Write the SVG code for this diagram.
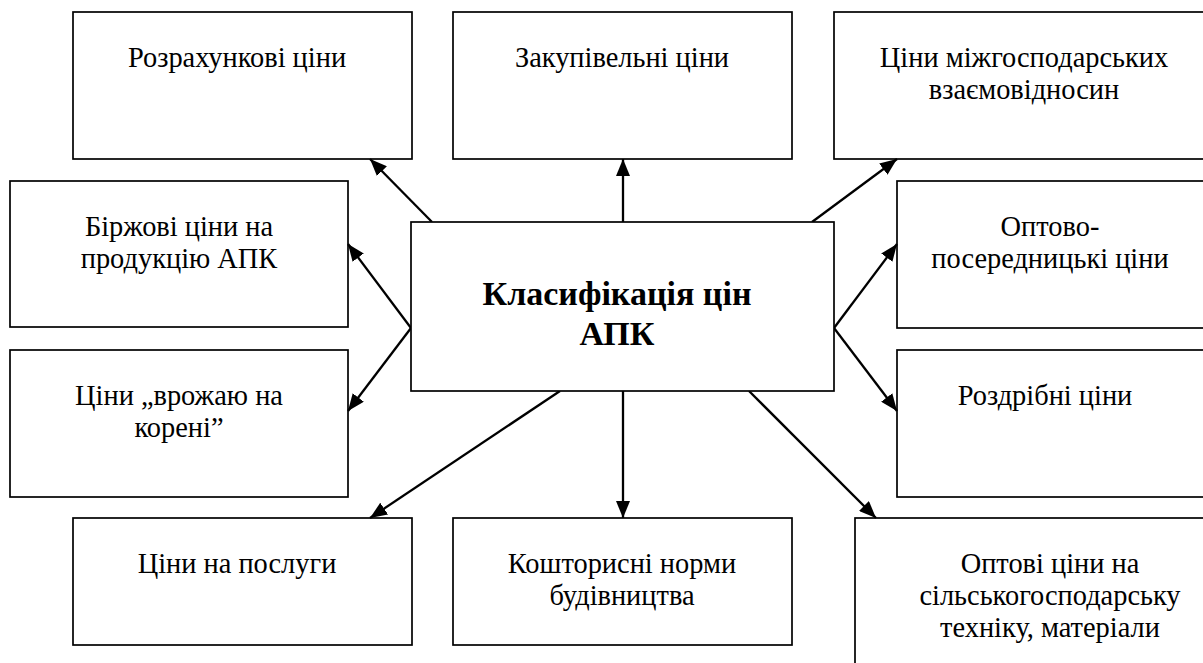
<svg xmlns="http://www.w3.org/2000/svg" width="1203" height="663" viewBox="0 0 1203 663">
<style>
.box{fill:#fff;stroke:#000;stroke-width:1.7}
text{font-family:"Liberation Serif","DejaVu Serif",serif;fill:#000;text-anchor:middle}
.t{font-size:28.4px}
.b{font-size:34px;font-weight:bold}
.c{stroke:#000;stroke-width:2.3;fill:none;marker-end:url(#ah)}
</style>
<defs>
<marker id="ah" markerUnits="userSpaceOnUse" markerWidth="18" markerHeight="14" refX="17" refY="7" orient="auto">
<path d="M0,0 L17,7 L0,14 z" fill="#000"/>
</marker>
</defs>
<rect width="1203" height="663" fill="#fff"/>
<g id="n-rozrakhunkovi"><rect class="box" x="73" y="12" width="339" height="147"/><text class="t" x="237" y="67">Розрахункові ціни</text></g>
<g id="n-zakupivelni"><rect class="box" x="453" y="12" width="339" height="147"/><text class="t" x="622" y="67">Закупівельні ціни</text></g>
<g id="n-mizhgosp"><rect class="box" x="834" y="12" width="380" height="147"/><text class="t" x="1024" y="67">Ціни міжгосподарських</text><text class="t" x="1024" y="99">взаємовідносин</text></g>
<g id="n-birzhovi"><rect class="box" x="10" y="181" width="338" height="146"/><text class="t" x="179" y="236">Біржові ціни на</text><text class="t" x="179" y="268">продукцію АПК</text></g>
<g id="n-optovo"><rect class="box" x="897" y="181" width="317" height="147"/><text class="t" x="1050" y="236">Оптово-</text><text class="t" x="1050" y="268">посередницькі ціни</text></g>
<g id="n-vrozhaiu"><rect class="box" x="10" y="350" width="338" height="147"/><text class="t" x="179" y="405">Ціни „врожаю на</text><text class="t" x="179" y="437">корені”</text></g>
<g id="n-rozdribni"><rect class="box" x="897" y="350" width="317" height="147"/><text class="t" x="1045" y="405">Роздрібні ціни</text></g>
<g id="n-posluhy"><rect class="box" x="73" y="518" width="339" height="127"/><text class="t" x="237" y="573">Ціни на послуги</text></g>
<g id="n-koshtorysni"><rect class="box" x="453" y="518" width="339" height="127"/><text class="t" x="622" y="573">Кошторисні норми</text><text class="t" x="622" y="605">будівництва</text></g>
<g id="n-optovi"><rect class="box" x="855" y="518" width="360" height="180"/><text class="t" x="1050" y="573">Оптові ціни на</text><text class="t" x="1050" y="605">сільськогосподарську</text><text class="t" x="1050" y="637">техніку, матеріали</text></g>
<g id="connectors">
<line class="c" x1="432" y1="222" x2="370" y2="159"/>
<line class="c" x1="623" y1="222" x2="623" y2="159"/>
<line class="c" x1="812" y1="222" x2="897" y2="159"/>
<line class="c" x1="411" y1="328" x2="348" y2="244"/>
<line class="c" x1="411" y1="328" x2="348" y2="411"/>
<line class="c" x1="834" y1="328" x2="897" y2="244"/>
<line class="c" x1="834" y1="328" x2="897" y2="411"/>
<line class="c" x1="560" y1="391" x2="370" y2="518"/>
<line class="c" x1="623" y1="391" x2="623" y2="518"/>
<line class="c" x1="749" y1="391" x2="876" y2="518"/>
</g>
<g id="n-center"><rect class="box" x="411" y="222" width="423" height="169"/><text class="b" x="617" y="305">Класифікація цін</text><text class="b" x="617" y="345">АПК</text></g>
</svg>
